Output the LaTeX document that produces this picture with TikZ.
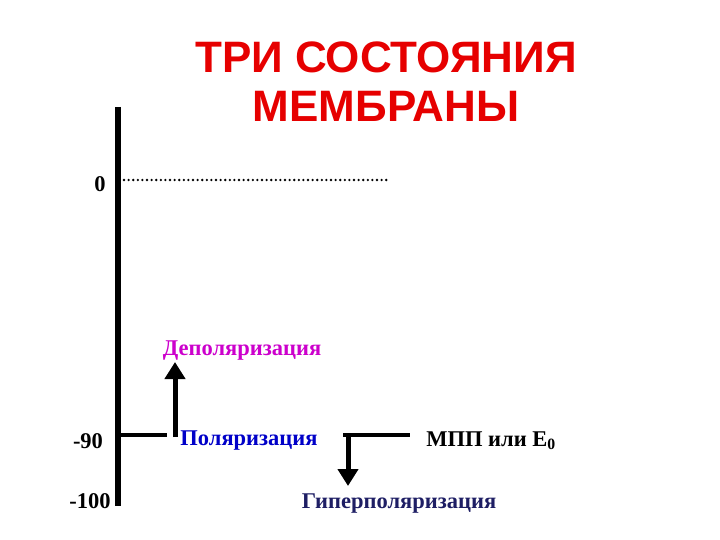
\documentclass[tikz,border=0pt]{standalone}
\usepackage{fontspec}
\setmainfont{Liberation Serif}
\newfontfamily\titlefont{Liberation Sans}
\usetikzlibrary{arrows.meta}
\definecolor{tred}{RGB}{230,0,0}
\definecolor{depol}{RGB}{204,0,204}
\definecolor{pol}{RGB}{0,0,200}
\definecolor{hyper}{RGB}{30,30,100}
\begin{document}
\begin{tikzpicture}[x=1pt,y=-1pt,
  lbl/.style={font=\fontsize{22.5}{24}\selectfont\bfseries, inner sep=0pt},
  axis/.style={line width=5.5pt},
  bar/.style={line width=4.5pt},
  arr/.style={line width=5pt, -{Triangle[width=20pt,length=17pt]}}]
\useasboundingbox (0,0) rectangle (720,540);
\node[font=\titlefont\fontsize{44}{49}\selectfont\bfseries, text=tred, align=center, inner sep=0pt] (title) at (386,82) {ТРИ СОСТОЯНИЯ\\МЕМБРАНЫ};
\coordinate (atop) at (118,107);
\coordinate (abot) at (118,506);
\draw[axis] (atop) -- (abot);
\node[lbl] (zero) at (100,184) {0};
\coordinate (d0) at (124,180);
\coordinate (d1) at (388,180);
\draw[line width=2.6pt, line cap=round, dash pattern=on 0pt off 4.6pt] (d0) -- (d1);
\node[lbl] (m90) at (88,441) {-90};
\node[lbl] (m100) at (90,501) {-100};
\coordinate (p0) at (118,435);
\coordinate (p1) at (167,435);
\draw[bar] (p0) -- (p1);
\coordinate (u0) at (175,437);
\node[lbl, text=depol] (dep) at (242,351) {Деполяризация};
\coordinate (u1) at (175,362);
\draw[arr] (u0) -- (u1);
\node[lbl, text=pol] (polz) at (249,441) {Поляризация};
\coordinate (h0) at (343,435);
\coordinate (h1) at (410,435);
\draw[bar] (h0) -- (h1);
\coordinate (v0) at (348,433);
\coordinate (v1) at (348,486);
\draw[arr] (v0) -- (v1);
\node[lbl] (mpp) at (491,441) {МПП или E\textsubscript{0}};
\node[lbl, text=hyper] (hyp) at (399,504) {Гиперполяризация};
\end{tikzpicture}
\end{document}
